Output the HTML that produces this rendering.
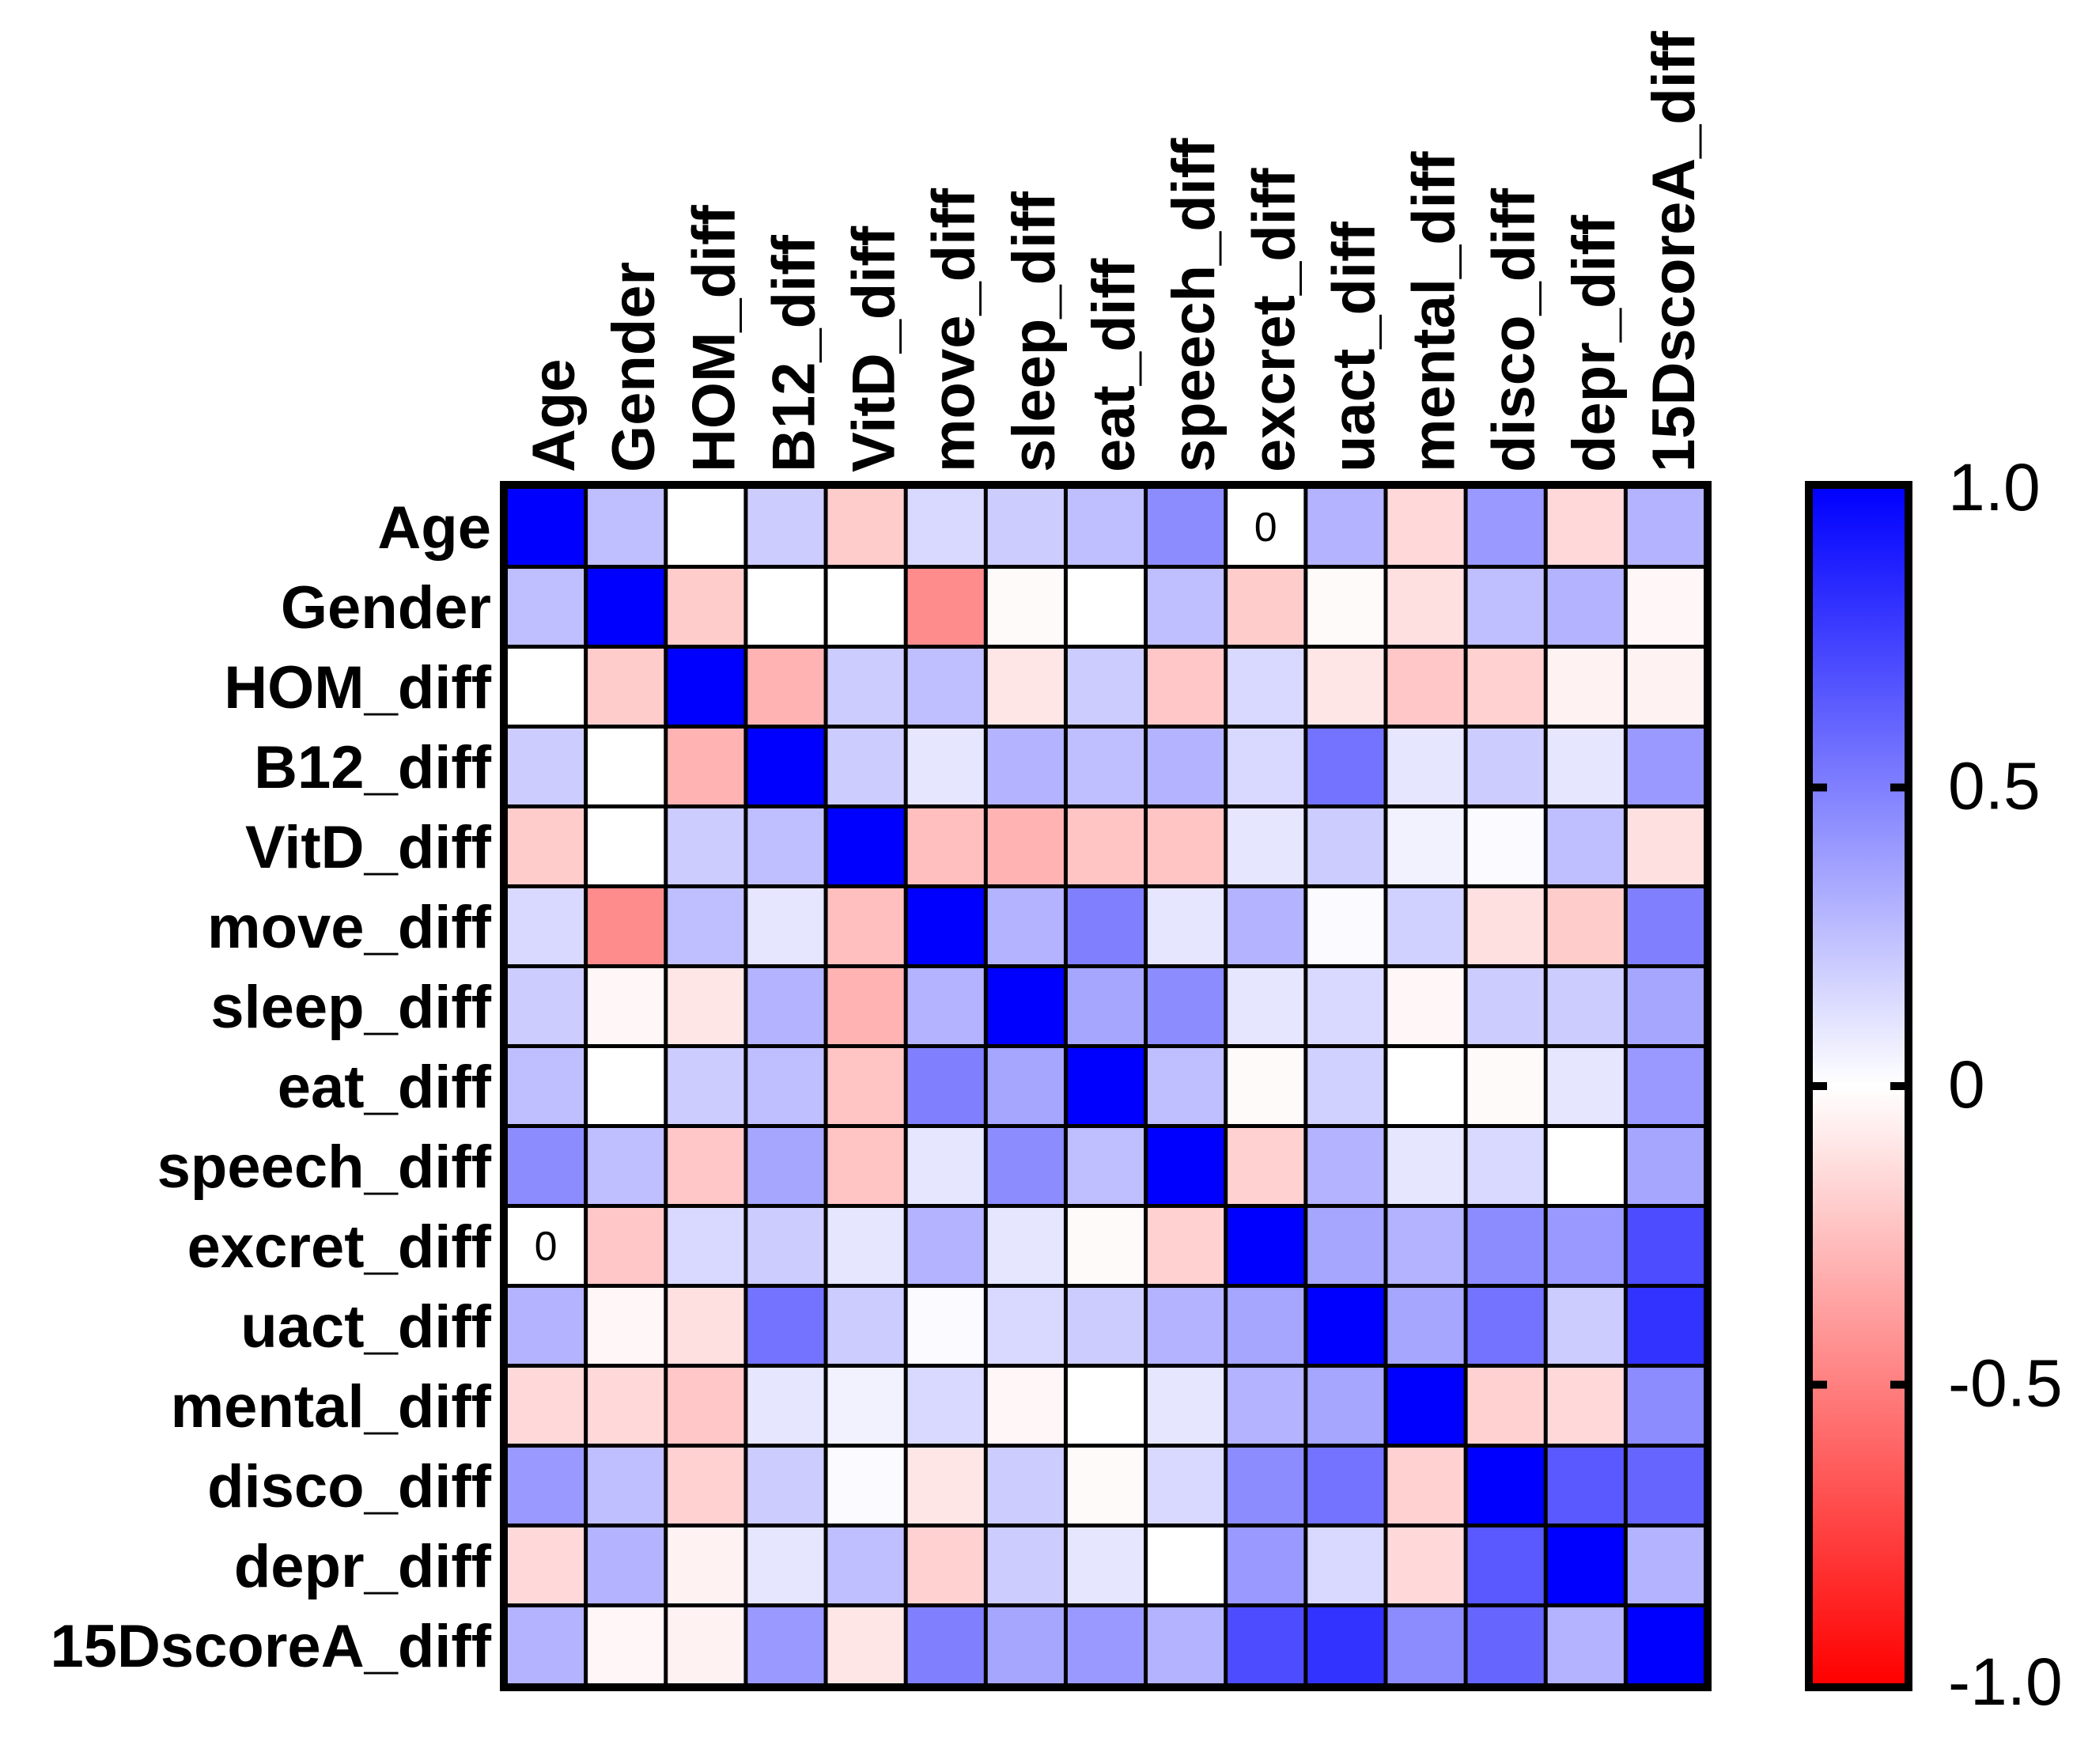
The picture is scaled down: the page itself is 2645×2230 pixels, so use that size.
<!DOCTYPE html>
<html><head><meta charset="utf-8"><style>
html,body{margin:0;padding:0;background:#fff;}
svg{display:block;font-family:"Liberation Sans",Arial,sans-serif;}
</style></head><body>
<svg id="chart" width="2645" height="2230" viewBox="0 0 2645 2230" xmlns="http://www.w3.org/2000/svg">
<defs>
<linearGradient id="cbgrad" x1="0" y1="0" x2="0" y2="1">
<stop offset="0" stop-color="#0000ff"/><stop offset="0.5" stop-color="#ffffff"/><stop offset="1" stop-color="#ff0000"/>
</linearGradient>
</defs>
<g id="heat"></g>
<g id="cb"></g>
</svg>
<script>
const labels = ["Age","Gender","HOM_diff","B12_diff","VitD_diff","move_diff","sleep_diff","eat_diff","speech_diff","excret_diff","uact_diff","mental_diff","disco_diff","depr_diff","15DscoreA_diff"];
const rowAge    = [1,.25,0,.2,-.2,.15,.2,.25,.45,0,.3,-.15,.4,-.15,.3];
const rowGender = [.25,1,-.2,0,0,-.45,-.02,0,.25,-.2,-.02,-.12,.25,.3,-.03];
const rowHOM    = [0,-.2,1,-.3,.2,.25,-.1,.2,-.22,.15,-.1,-.22,-.18,-.05,-.05];
const rowB12    = [.2,0,-.3,1,.2,.1,.3,.25,.3,.15,.55,.1,.2,.1,.4];
const rowVitD   = [-.2,0,.2,.25,1,-.25,-.3,-.23,-.23,.1,.2,.05,.02,.25,-.12];
const rowMove   = [.15,-.45,.25,.1,-.25,1,.3,.5,.1,.3,.02,.18,-.12,-.2,.5];
const rowSleep  = [.2,-.03,-.1,.3,-.3,.3,1,.35,.45,.1,.15,-.03,.2,.2,.35];
const rowEat    = [.25,0,.2,.25,-.23,.5,.35,1,.25,-.02,.18,0,-.02,.1,.4];
const rowSpeech = [.45,.25,-.22,.35,-.23,.1,.45,.25,1,-.18,.3,.1,.15,0,.35];
const rowExcret = [0,-.22,.15,.2,.1,.3,.1,-.02,-.18,1,.35,.3,.45,.4,.7];
const rowUact   = [.3,-.03,-.12,.55,.2,.02,.15,.2,.3,.35,1,.35,.55,.2,.8];
const rowMental = [-.15,-.15,-.22,.1,.05,.15,-.03,0,.1,.3,.35,1,-.18,-.15,.45];
const rowDisco  = [.4,.25,-.18,.2,.02,-.1,.2,-.02,.15,.45,.55,-.18,1,.65,.6];
const rowDepr   = [-.15,.3,-.05,.1,.25,-.18,.2,.1,0,.4,.15,-.15,.65,1,.3];
const row15D    = [.3,-.03,-.05,.4,-.1,.5,.35,.4,.3,.7,.8,.45,.6,.3,1];
const matrix = [rowAge,rowGender,rowHOM,rowB12,rowVitD,rowMove,rowSleep,rowEat,rowSpeech,rowExcret,rowUact,rowMental,rowDisco,rowDepr,row15D];
const zeroCells = [[0,9],[9,0]];
const cbTicks = [1,0.5,0,-0.5,-1];
const cbTickLabels = ["1.0","0.5","0","-0.5","-1.0"];

const NS="http://www.w3.org/2000/svg";
function mk(tag, attrs, parent){const e=document.createElementNS(NS,tag);for(const k in attrs)e.setAttribute(k,attrs[k]);parent.appendChild(e);return e;}
const ox=632, oy=608, ow=1532, oh=1530, bw=10, gap=5;
const ix=ox+bw, iy=oy+bw, iw=ow-2*bw, ih=oh-2*bw;
const n=labels.length;
const px=(iw+gap)/n, py=(ih+gap)/n;
const xCell=i=>ix+i*px, yCell=j=>iy+j*py;
function color(v){v=Math.max(-1,Math.min(1,v));
  if(v>=0){const c=Math.round(255*(1-v));return `rgb(${c},${c},255)`;}
  const c=Math.round(255*(1+v));return `rgb(255,${c},${c})`;}
const heat=document.getElementById('heat');
const frame=mk('rect',{x:ox,y:oy,width:ow,height:oh,fill:'#000'},heat);


matrix.forEach((row,j)=>row.forEach((v,i)=>{
  const r=mk('rect',{x:xCell(i),y:yCell(j),width:px-gap,height:py-gap,fill:color(v)},heat);
  
  
}));
zeroCells.forEach(([j,i])=>{
  const t=mk('text',{x:xCell(i)+(px-gap)/2,y:yCell(j)+(py-gap)/2+18,'font-size':52,'text-anchor':'middle',fill:'#000'},heat);
  t.textContent='0';
  
  
});
labels.forEach((lab,j)=>{
  const t=mk('text',{x:621,y:yCell(j)+(py-gap)/2+27,'font-size':76,'font-weight':'bold','text-anchor':'end',fill:'#000'},heat);
  t.textContent=lab;
  
  
});
labels.forEach((lab,i)=>{
  const bx=xCell(i)+(px-gap)/2+36, by=597;
  const t=mk('text',{x:bx,y:by,'font-size':76,'font-weight':'bold','text-anchor':'start',fill:'#000',transform:`rotate(-90 ${bx} ${by})`},heat);
  t.textContent=lab;
  
  
});
// colorbar
const cb=document.getElementById('cb');
const cx=2282, cw=136, cy=608, ch=1530;
const cbY=v=>(cy+bw)+(1-v)/2*(ch-2*bw);
const cbo=mk('rect',{x:cx,y:cy,width:cw,height:ch,fill:'#000'},cb);


const cbi=mk('rect',{x:cx+bw,y:cy+bw,width:cw-2*bw,height:ch-2*bw,fill:'url(#cbgrad)'},cb);


cbTicks.forEach((v,k)=>{
  const y=cbY(v);
  if(v<1&&v>-1){
    const a=mk('rect',{x:cx+bw,y:y-5,width:18,height:10,fill:'#000'},cb);
    
    
    const b=mk('rect',{x:cx+cw-bw-18,y:y-5,width:18,height:10,fill:'#000'},cb);
    
    
  }
  const t=mk('text',{x:2463,y:y+27,'font-size':84,fill:'#000'},cb);
  t.textContent=cbTickLabels[k];
  
  
});
</script>
</body></html>
